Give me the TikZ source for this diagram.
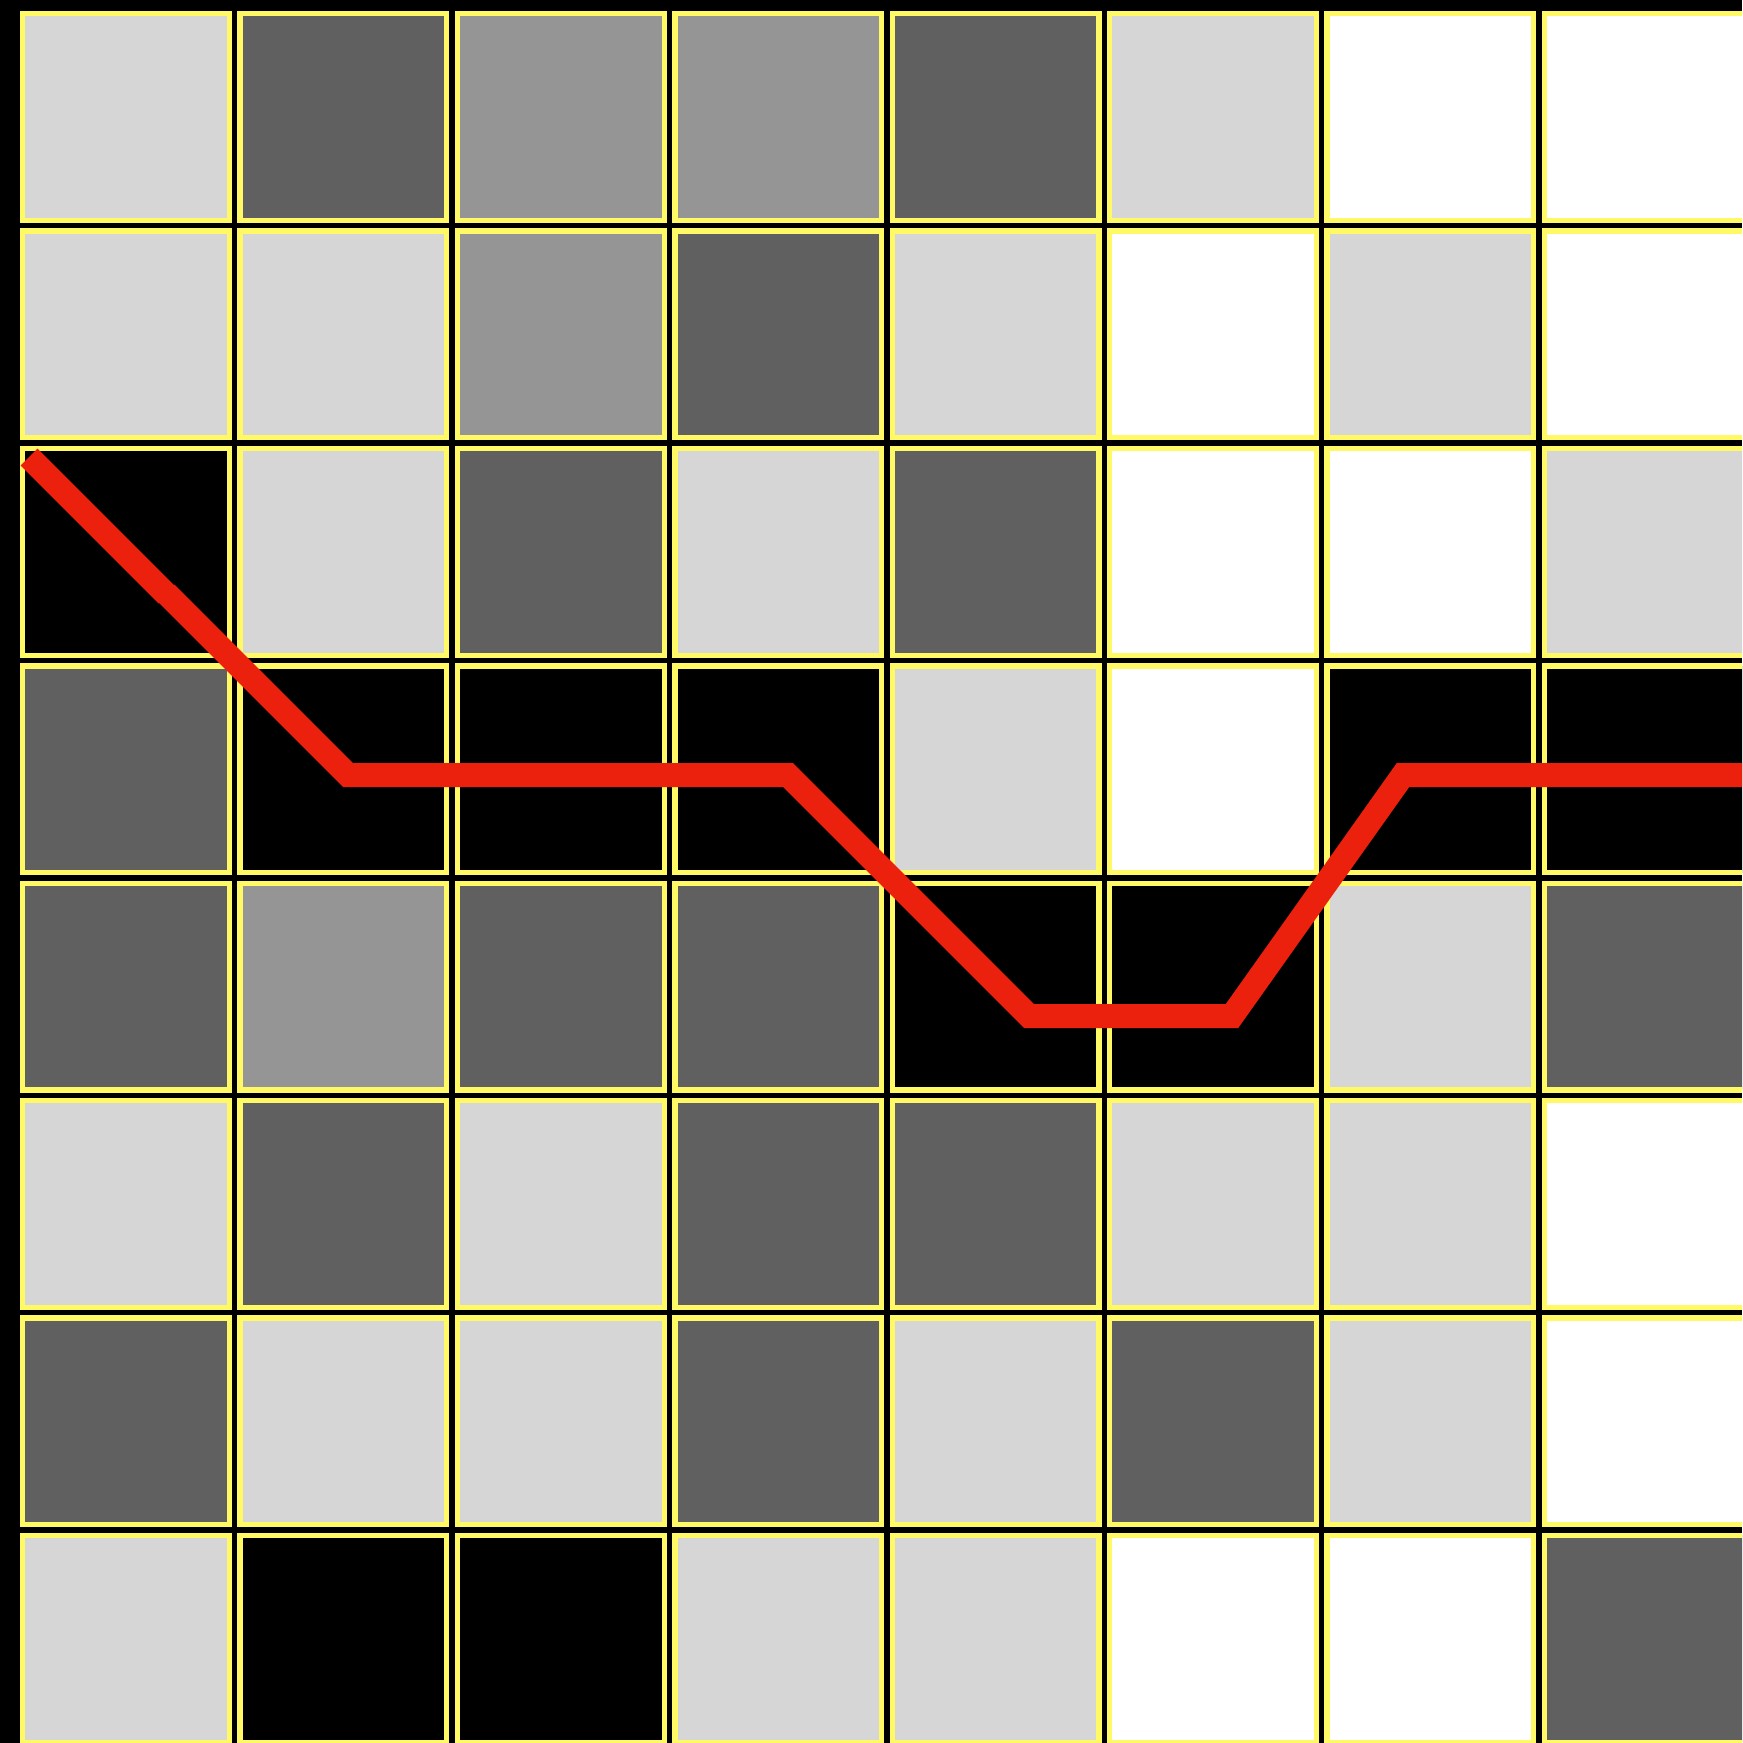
\documentclass[tikz,border=0pt]{standalone}
\usepackage{tikz}
\definecolor{cellL}{HTML}{D6D6D6}
\definecolor{cellM}{HTML}{959595}
\definecolor{cellD}{HTML}{606060}
\definecolor{cellW}{HTML}{FFFFFF}
\definecolor{cellK}{HTML}{000000}
\definecolor{rim}{HTML}{FFF966}
\definecolor{pathred}{HTML}{EC210D}
\tikzset{
  every picture/.style={x=0.5pt, y=-0.5pt, line join=miter, line cap=butt},
  cell/.style={draw=rim, line width=2.65pt},
  route/.style={draw=pathred, line width=12pt},
}

\begin{document}
\begin{tikzpicture}
\clip (0,0) rectangle (1742,1743);
\fill[black] (0,0) rectangle (1742,1743);
\foreach \row [count=\j from 0] in {{L,D,M,M,D,L,W,W},{L,L,M,D,L,W,L,W},{K,L,D,L,D,W,W,L},{D,K,K,K,L,W,K,K},{D,M,D,D,K,K,L,D},{L,D,L,D,D,L,L,W},{D,L,L,D,L,D,L,W},{L,K,K,L,L,W,W,D}}
  \foreach \c [count=\i from 0] in \row
    \draw[cell, fill=cell\c] ({22.65+217.4*\i},{13.65+217.4*\j}) rectangle +(206.7,206.7);
\draw[route] (29,457) -- (167,595);
\draw[route] (166,593) -- (348,775) -- (788,775) -- (1029,1016) -- (1232,1016) -- (1403,775) -- (1760,775);
\end{tikzpicture}
\end{document}
